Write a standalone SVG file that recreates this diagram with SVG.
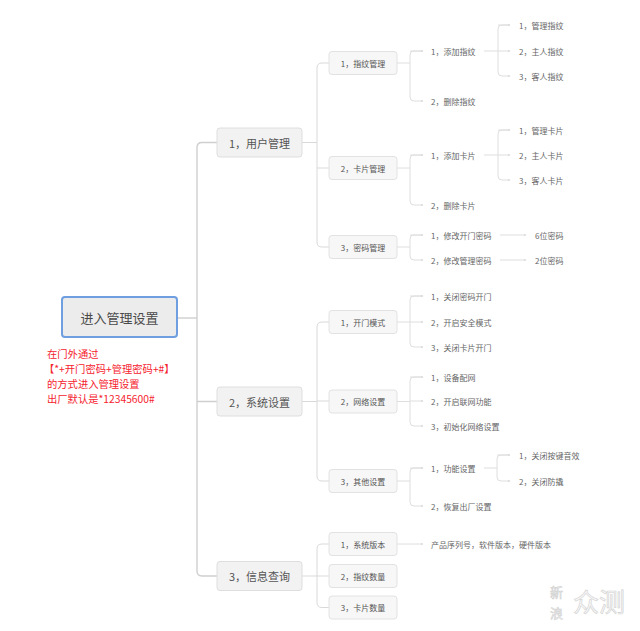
<svg xmlns="http://www.w3.org/2000/svg" width="640" height="631" viewBox="0 0 640 631">
<defs>
<style>
text{font-family:"Noto Sans CJK SC","Microsoft YaHei",sans-serif;dominant-baseline:central}
.root rect{fill:#ececec;stroke:#6f9fe0;stroke-width:2}
.root text{font-size:13px;fill:#4a4a4a;text-anchor:middle}
.l1 rect{fill:#f2f2f2;stroke:#dedede;stroke-width:1}
.l1 text{font-size:11px;fill:#555;text-anchor:middle}
.l2 rect{fill:#f7f7f7;stroke:#e2e2e2;stroke-width:1}
.l2 text{font-size:8px;fill:#555;text-anchor:middle}
.t text{font-size:8px;fill:#666}
.note text{font-size:10.3px;fill:#f5222d}
.c1{fill:none;stroke:#cfcfcf;stroke-width:1.4}
.c2{fill:none;stroke:#d9d9d9;stroke-width:1}
.c3{fill:none;stroke:#dedede;stroke-width:1}
.ar{marker-end:url(#ah)}
.wm{fill:#f6f6f6;stroke:#d2d2d2;stroke-width:0.6}
</style>
<marker id="ah" viewBox="0 0 6 6" refX="5" refY="3" markerWidth="3" markerHeight="3" orient="auto">
<path d="M0,0 L6,3 L0,6 z" fill="#dcdcdc"/>
</marker>
</defs>
<rect width="640" height="631" fill="#fff"/>

<g id="connectors">
<path class="c1" d="M177,318 H197"/>
<path class="c1" d="M217,142.5 H202 Q197,142.5 197,147.5 V571 Q197,576 202,576 H217 M197,401.5 H217"/>
<path class="c2" d="M302,142.5 H317 M329,63 H322 Q317,63 317,68 V242 Q317,247 322,247 H329 M317,168 H329"/>
<path class="c2" d="M302,401.5 H317 M329,322 H322 Q317,322 317,327 V476 Q317,481 322,481 H329 M317,401 H329"/>
<path class="c2" d="M302,576 H317 M329,544 H322 Q317,544 317,549 V602.5 Q317,607.5 322,607.5 H329 M317,576 H329"/>
<g class="c3">
<path d="M397,63 H410"/>
<path class="ar" d="M423,51 H414 Q410,51 410,55 V97 Q410,101 414,101 H423"/>
<path class="ar" d="M410,51 H423"/>
<path d="M397,168 H410"/>
<path class="ar" d="M423,155 H414 Q410,155 410,159 V201 Q410,205 414,205 H423"/>
<path class="ar" d="M410,155 H423"/>
<path d="M397,247 H410"/>
<path class="ar" d="M423,235 H414 Q410,235 410,239 V256 Q410,260 414,260 H423"/>
<path class="ar" d="M410,235 H423"/>
<path d="M397,322 H410"/>
<path class="ar" d="M423,296 H414 Q410,296 410,300 V343 Q410,347 414,347 H423"/>
<path class="ar" d="M410,296 H423"/>
<path class="ar" d="M410,322 H423"/>
<path d="M397,401.5 H410"/>
<path class="ar" d="M423,377 H414 Q410,377 410,381 V422 Q410,426 414,426 H423"/>
<path class="ar" d="M410,377 H423"/>
<path class="ar" d="M410,401 H423"/>
<path d="M397,481 H410"/>
<path class="ar" d="M423,468 H414 Q410,468 410,472 V502 Q410,506 414,506 H423"/>
<path class="ar" d="M410,468 H423"/>
<path class="ar" d="M397,544 H423"/>
<path d="M484,51 H498"/>
<path class="ar" d="M510,25 H502 Q498,25 498,29 V72 Q498,76 502,76 H510"/>
<path class="ar" d="M498,25 H510"/>
<path class="ar" d="M498,51 H510"/>
<path d="M484,155 H498"/>
<path class="ar" d="M510,130 H502 Q498,130 498,134 V176 Q498,180 502,180 H510"/>
<path class="ar" d="M498,130 H510"/>
<path class="ar" d="M498,155 H510"/>
<path class="ar" d="M500,235 H526"/>
<path class="ar" d="M500,260 H526"/>
<path d="M484,468 H497"/>
<path class="ar" d="M510,455 H501 Q497,455 497,459 V477 Q497,481 501,481 H510"/>
<path class="ar" d="M497,455 H510"/>
</g>
</g>

<g id="root" class="root">
<rect x="62" y="297" width="115" height="40" rx="3"/>
<text x="119.5" y="317.5">进入管理设置</text>
</g>

<g id="note" class="note">
<text x="47" y="353.5">在门外通过</text>
<text x="44" y="368.5">【*+开门密码+管理密码+#】</text>
<text x="47" y="383.5">的方式进入管理设置</text>
<text x="47" y="398.5">出厂默认是*12345600#</text>
</g>

<g id="n-user" class="l1"><rect x="217" y="128" width="85" height="29" rx="3"/><text x="259.5" y="142.5">1，用户管理</text></g>
<g id="n-sys" class="l1"><rect x="217" y="387" width="85" height="29" rx="3"/><text x="259.5" y="401.5">2，系统设置</text></g>
<g id="n-info" class="l1"><rect x="217" y="561.5" width="85" height="29" rx="3"/><text x="259.5" y="576">3，信息查询</text></g>

<g id="n-fp" class="l2"><rect x="329" y="51.5" width="68" height="23" rx="3"/><text x="363" y="63">1，指纹管理</text></g>
<g id="n-card" class="l2"><rect x="329" y="156.5" width="68" height="23" rx="3"/><text x="363" y="168">2，卡片管理</text></g>
<g id="n-pwd" class="l2"><rect x="329" y="235.5" width="68" height="23" rx="3"/><text x="363" y="247">3，密码管理</text></g>
<g id="n-door" class="l2"><rect x="329" y="310.5" width="68" height="23" rx="3"/><text x="363" y="322">1，开门模式</text></g>
<g id="n-net" class="l2"><rect x="329" y="390" width="68" height="23" rx="3"/><text x="363" y="401.5">2，网络设置</text></g>
<g id="n-other" class="l2"><rect x="329" y="469.5" width="68" height="23" rx="3"/><text x="363" y="481">3，其他设置</text></g>
<g id="n-ver" class="l2"><rect x="329" y="532.5" width="68" height="23" rx="3"/><text x="363" y="544">1，系统版本</text></g>
<g id="n-fpn" class="l2"><rect x="329" y="564.5" width="68" height="23" rx="3"/><text x="363" y="576">2，指纹数量</text></g>
<g id="n-cardn" class="l2"><rect x="329" y="596" width="68" height="23" rx="3"/><text x="363" y="607.5">3，卡片数量</text></g>

<g class="t">
<g id="n-addfp"><text x="431" y="51">1，添加指纹</text></g>
<g id="n-delfp"><text x="431" y="101">2，删除指纹</text></g>
<g id="n-fp1"><text x="519" y="25">1，管理指纹</text></g>
<g id="n-fp2"><text x="519" y="51">2，主人指纹</text></g>
<g id="n-fp3"><text x="519" y="76">3，客人指纹</text></g>
<g id="n-addcard"><text x="431" y="155">1，添加卡片</text></g>
<g id="n-delcard"><text x="431" y="205">2，删除卡片</text></g>
<g id="n-c1"><text x="519" y="130">1，管理卡片</text></g>
<g id="n-c2"><text x="519" y="155">2，主人卡片</text></g>
<g id="n-c3"><text x="519" y="180">3，客人卡片</text></g>
<g id="n-pw1"><text x="431" y="235">1，修改开门密码</text></g>
<g id="n-pw2"><text x="431" y="260">2，修改管理密码</text></g>
<g id="n-pw1a"><text x="535" y="235">6位密码</text></g>
<g id="n-pw2a"><text x="535" y="260">2位密码</text></g>
<g id="n-d1"><text x="431" y="296">1，关闭密码开门</text></g>
<g id="n-d2"><text x="431" y="322">2，开启安全模式</text></g>
<g id="n-d3"><text x="431" y="347">3，关闭卡片开门</text></g>
<g id="n-w1"><text x="431" y="377">1，设备配网</text></g>
<g id="n-w2"><text x="431" y="401">2，开启联网功能</text></g>
<g id="n-w3"><text x="431" y="426">3，初始化网络设置</text></g>
<g id="n-o1"><text x="431" y="468">1，功能设置</text></g>
<g id="n-o2"><text x="431" y="506">2，恢复出厂设置</text></g>
<g id="n-o1a"><text x="519" y="455">1，关闭按键音效</text></g>
<g id="n-o1b"><text x="519" y="481">2，关闭防撬</text></g>
<g id="n-vera"><text x="431" y="544">产品序列号，软件版本，硬件版本</text></g>
</g>

<g id="watermark">
<text class="wm" x="550" y="591" style="font-size:13px">新</text>
<text class="wm" x="550" y="612" style="font-size:13px">浪</text>
<text class="wm" x="573" y="600" style="font-size:26px">众测</text>
</g>
</svg>
